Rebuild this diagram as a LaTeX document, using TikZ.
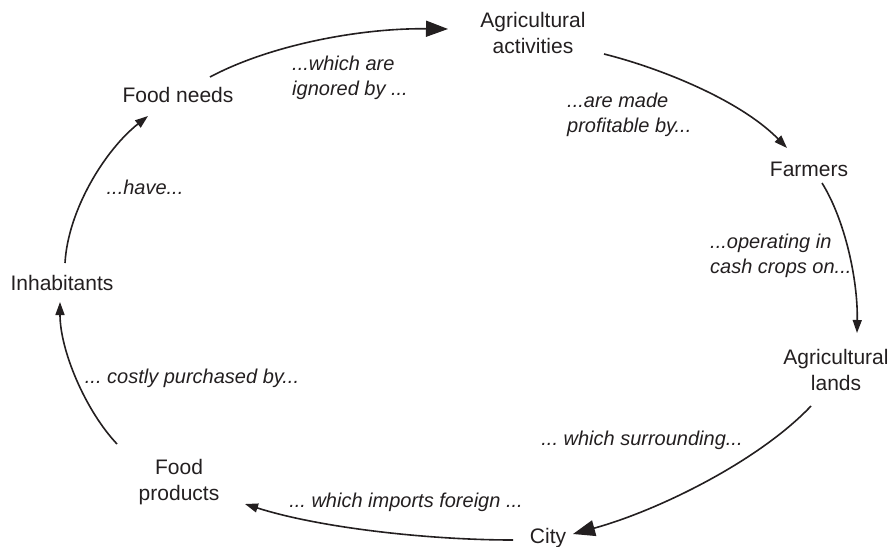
\documentclass[tikz,border=0pt]{standalone}
\usepackage{fontspec}
\setmainfont{Liberation Sans}
\usetikzlibrary{arrows.meta}
\definecolor{ink}{HTML}{231F20}
\frenchspacing
\begin{document}
\begin{tikzpicture}[x=1pt,y=-1pt,
  concept/.style={inner sep=0pt, align=center, text=ink,
    font=\fontsize{21}{26}\selectfont, text height=15pt, text depth=4pt},
  link/.style={inner sep=0pt, align=left, text=ink,
    font=\fontsize{20}{25}\selectfont\itshape},
  flow/.style={draw=ink, line width=1.6pt, -{Triangle[length=13pt,width=9pt]}},
  bigflow/.style={draw=ink, line width=1.6pt, -{Triangle[length=22pt,width=16pt]}}]
\useasboundingbox (0,0) rectangle (893,546);

% concepts around the loop
\node[concept] (aa) at (533,48) {Agricultural\\activities};
\node[concept] (fa) at (809,171) {Farmers};
\node[concept] (al) at (836,385) {Agricultural\\lands};
\node[concept] (ci) at (548,538) {City};
\node[concept] (fp) at (179,495) {Food\\products};
\node[concept] (ih) at (62,285) {Inhabitants};
\node[concept] (fn) at (178,97) {Food needs};

% link phrases
\node[link, anchor=west] (l1) at (292,78) {...which are\\ignored by ...};
\node[link, anchor=west] (l2) at (567,115) {...are made\\profitable by...};
\node[link, anchor=west] (l3) at (710,256) {...operating in\\cash crops on...};
\node[link] (l4) at (145,187) {...have...};
\node[link] (l5) at (192,378) {... costly purchased by...};
\node[link] (l6) at (642,440) {... which surrounding...};
\node[link] (l7) at (406,502) {... which imports foreign ...};

% curved connectors
\draw[bigflow] ([shift={(32,-20)}]fn.center) .. controls (270,45) and (360,28) .. ([shift={(-85,-19)}]aa.center);
\draw[flow] ([shift={(71,6)}]aa.center) .. controls (660,68) and (740,100) .. ([shift={(-22,-23)}]fa.center);
\draw[flow] ([shift={(13,12)}]fa.center) .. controls (845,220) and (858,280) .. ([shift={(21,-52)}]al.center);
\draw[bigflow] ([shift={(-25,21)}]al.center) .. controls (760,460) and (660,510) .. ([shift={(25,-4)}]ci.center);
\draw[flow] ([shift={(-35,2)}]ci.center) .. controls (430,540) and (320,528) .. ([shift={(66,9)}]fp.center);
\draw[flow] ([shift={(-62,-51)}]fp.center) .. controls (85,410) and (60,350) .. ([shift={(-2,17)}]ih.center);
\draw[flow] ([shift={(3,-22)}]ih.center) .. controls (68,210) and (105,150) .. ([shift={(-30,19)}]fn.center);
\end{tikzpicture}
\end{document}
